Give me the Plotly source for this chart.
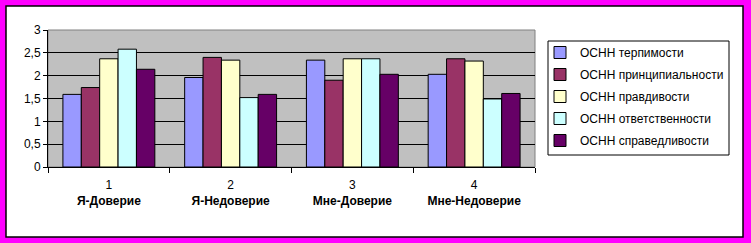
import plotly.graph_objects as go

categories = ["1<br><b>Я-Доверие</b>", "2<br><b>Я-Недоверие</b>",
              "3<br><b>Мне-Доверие</b>", "4<br><b>Мне-Недоверие</b>"]
series_names = ["ОСНН терпимости", "ОСНН принципиальности", "ОСНН правдивости",
                "ОСНН ответственности", "ОСНН справедливости"]
terpimost = [1.59, 1.96, 2.34, 2.03]
princip = [1.74, 2.40, 1.90, 2.37]
pravdiv = [2.37, 2.34, 2.37, 2.32]
otvetstv = [2.58, 1.52, 2.37, 1.49]
spravedl = [2.14, 1.59, 2.03, 1.61]
colors = ["#9999FF", "#993366", "#FFFFCC", "#CCFFFF", "#660066"]
y_ticks = [0, 0.5, 1, 1.5, 2, 2.5, 3]

W, H = 751, 243
L, R, T, B = 48, 216, 30, 76
pw, ph = W - L - R, H - T - B

def px_x(x):
    return (x - L) / pw

def px_y(y):
    return (H - y - B) / ph

fig = go.Figure()
for i, (name, vals, c) in enumerate(zip(series_names, [terpimost, princip, pravdiv, otvetstv, spravedl], colors)):
    fig.add_trace(go.Bar(x=categories, y=vals, name=name, marker_color=c,
                         legendgroup=f"g{i}",
                         marker_line_color="black", marker_line_width=1))

fig.update_layout(
    width=W, height=H,
    margin=dict(l=L, r=R, t=T, b=B),
    paper_bgcolor="#FF00FF",
    plot_bgcolor="rgba(0,0,0,0)",
    barmode="group", bargap=0.245, bargroupgap=0,
    font=dict(family="Liberation Sans, Arial", size=12, color="black"),
    separators=",.",
    showlegend=True,
    legend=dict(x=px_x(540), y=px_y(38), xanchor="left", yanchor="top",
                bgcolor="rgba(0,0,0,0)", borderwidth=0,
                font=dict(size=12), tracegroupgap=3, itemwidth=30),
    shapes=[
        dict(type="rect", xref="paper", yref="paper", layer="below",
             x0=px_x(6), x1=px_x(743), y0=px_y(237), y1=px_y(6),
             fillcolor="white", line=dict(color="black", width=1.5)),
        dict(type="rect", xref="paper", yref="paper", layer="below",
             x0=0, x1=1, y0=0, y1=1,
             fillcolor="#C0C0C0", line=dict(color="#808080", width=1)),
        dict(type="rect", xref="paper", yref="paper", layer="below",
             x0=px_x(548), x1=px_x(729), y0=px_y(155), y1=px_y(41),
             fillcolor="white", line=dict(color="black", width=1)),
    ],
)
fig.update_xaxes(showgrid=False, showline=True, linecolor="black", linewidth=1,
                 ticks="outside", tickson="boundaries", ticklen=5, tickcolor="black",
                 ticklabelstandoff=7,
                 tickfont=dict(size=12))
fig.update_yaxes(range=[0, 3], tickvals=y_ticks, showgrid=True, gridcolor="black",
                 gridwidth=1, showline=True, linecolor="black", linewidth=1,
                 ticks="outside", ticklen=4, tickcolor="black", zeroline=False,
                 tickfont=dict(size=12))

fig.write_html("out.html")
